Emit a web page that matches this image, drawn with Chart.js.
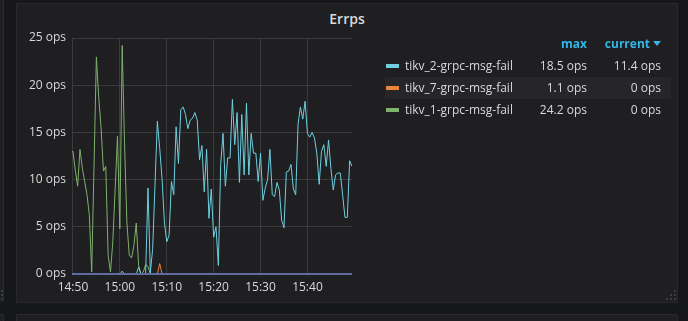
<!DOCTYPE html>
<html>
<head>
<meta charset="utf-8">
<script src="https://cdn.jsdelivr.net/npm/chart.js@4.4.1/dist/chart.umd.min.js"></script>
<style>
    html, body { margin: 0; padding: 0; }
    body {
        width: 688px;
        height: 321px;
        background: #161719;
        overflow: hidden;
        position: relative;
        font-family: 'Open Sans', sans-serif;
        color: #d8d9da;
    }
    .panel {
        position: absolute;
        box-sizing: border-box;
        background: #1f1e20;
        border: 1px solid #29292b;
    }
    .title {
        position: absolute;
        left: 16px;
        width: 662px;
        top: 9px;
        text-align: center;
        font-size: 14px;
        font-weight: 600;
        line-height: 20px;
    }
    canvas { position: absolute; left: 0; top: 0; }
    .legend { position: absolute; left: 385px; top: 33px; width: 286px; font-size: 12px; }
    .legend .row { position: relative; height: 22px; line-height: 22px; }
    .legend .row.alt { background: #262628; }
    .legend .head { color: #33b5e5; font-weight: 700; }
    .legend .swatch { position: absolute; left: 1px; top: 9px; width: 13px; height: 4px; }
    .legend .name { position: absolute; left: 20px; }
    .legend .max { position: absolute; right: 84px; }
    .legend .cur { position: absolute; right: 10px; }
    .caret {
        display: inline-block;
        width: 0; height: 0;
        margin-left: 3px;
        vertical-align: 2px;
        border-left: 4px solid transparent;
        border-right: 4px solid transparent;
        border-top: 5px solid #33b5e5;
    }
    .grip { position: absolute; width: 2px; height: 2px; background: #3c3c46; }
</style>
</head>
<body>
<div class="panel" style="left:-20px; top:-10px; width:24px; height:312px"></div>
<div class="panel" style="left:-20px; top:314px; width:24px; height:40px"></div>
<div class="panel" style="left:16px; top:314px; width:662px; height:40px"></div>
<div class="panel" style="left:16px; top:3px; width:662px; height:300px"></div>
<div class="title">Errps</div>
<canvas id="chart" width="688" height="321"></canvas>
<div class="legend" id="legend"></div>
<div id="grips"></div>
<script>
// minutes after 14:50, one sample every 30s
const startMinute = -0.5
const stepMinutes = 0.5
const xTickMinutes = [0, 10, 20, 30, 40, 50]
const yTicks = [0, 5, 10, 15, 20, 25]

const seriesNames = ['tikv_2-grpc-msg-fail', 'tikv_7-grpc-msg-fail', 'tikv_1-grpc-msg-fail']
const seriesColors = ['#6ed0e0', '#ef843c', '#7eb26d']

const tikv2 = [
    0, 0, 0, 0, 0, 0, 0, 0, 0, 0,
    0, 0, 0, 0, 0, 0, 0, 0, 0, 0,
    0, 0, 0.3, 0, 0, 0, 0, 0, 0, 0.7,
    0, 0, 0, 9.1, 0.1, 2.7, 9.5, 16.2, 13.3, 10.1,
    5.5, 3.4, 4.1, 9.8, 8.4, 15.6, 11.7, 17.4, 17.7, 16.9,
    15.4, 16.3, 16.5, 17.1, 16.3, 12.1, 13.6, 8.7, 13.2, 5.9,
    9.0, 3.9, 5.0, 0.9, 11.6, 14.9, 9.3, 12.3, 12.3, 18.5,
    13.7, 17.1, 9.7, 16.9, 10.5, 18.1, 10.5, 14.9, 12.8, 12.8,
    9.8, 12.8, 7.8, 9.1, 10.0, 13.2, 8.4, 8.2, 9.7, 8.9,
    5.7, 4.9, 10.8, 10.9, 11.6, 9.0, 8.4, 15.9, 17.7, 16.4,
    18.3, 14.9, 14.5, 15.0, 14.4, 12.8, 9.5, 13.0, 13.7, 11.4,
    14.2, 11.2, 8.9, 10.5, 10.7, 10.7, 8.4, 6.0, 6.0, 12.0,
    11.4
]

const tikv7 = [
    0, 0, 0, 0, 0, 0, 0, 0, 0, 0,
    0, 0, 0, 0, 0, 0, 0, 0, 0, 0,
    0, 0, 0, 0, 0, 0, 0, 0, 0, 0,
    0, 0, 0, 0, 0, 0, 0, 0, 1.1, 0,
    0, 0, 0, 0, 0, 0, 0, 0, 0, 0,
    0, 0, 0, 0, 0, 0, 0, 0, 0, 0,
    0, 0, 0, 0, 0, 0, 0, 0, 0, 0,
    0, 0, 0, 0, 0, 0, 0, 0, 0, 0,
    0, 0, 0, 0, 0, 0, 0, 0, 0, 0,
    0, 0, 0, 0, 0, 0, 0, 0, 0, 0,
    0, 0, 0, 0, 0, 0, 0, 0, 0, 0,
    0, 0, 0, 0, 0, 0, 0, 0, 0, 0,
    0
]

const tikv1 = [
    12.8, 13.0, 11.0, 9.3, 13.2, 11.2, 9.8, 8.4, 6.2, 0.2,
    11.5, 23.0, 18.7, 15.5, 10.9, 11.4, 2.0, 0.2, 3.4, 9.0,
    14.6, 4.8, 24.2, 13.9, 5.5, 2.0, 1.7, 3.0, 5.4, 0.9,
    0, 0.2, 1.0, 0.8, 0, 0, 0, 0, 0, 0,
    0, 0, 0, 0, 0, 0, 0, 0, 0, 0,
    0, 0, 0, 0, 0, 0, 0, 0, 0, 0,
    0, 0, 0, 0, 0, 0, 0, 0, 0, 0,
    0, 0, 0, 0, 0, 0, 0, 0, 0, 0,
    0, 0, 0, 0, 0, 0, 0, 0, 0, 0,
    0, 0, 0, 0, 0, 0, 0, 0, 0, 0,
    0, 0, 0, 0, 0, 0, 0, 0, 0, 0,
    0, 0, 0, 0, 0, 0, 0, 0, 0, 0,
    0
]

const seriesValues = [tikv2, tikv7, tikv1]

const textColor = '#d8d9da'
const gridColor = '#3a3a3c'

Chart.defaults.font.family = "'Open Sans', sans-serif"
Chart.defaults.font.size = 12

const minuteLabel = m => {
    const total = 14 * 60 + 50 + m
    return `${Math.floor(total / 60)}:${String(total % 60).padStart(2, '0')}`
}

// zero-valued series sit on the baseline and blend into one bluish line
const zeroLinePlugin = {
    id: 'zeroLine',
    afterDatasetsDraw(chart) {
        const { ctx, chartArea, scales } = chart
        const y = scales.y.getPixelForValue(0)
        ctx.save()
        ctx.strokeStyle = '#5f6b9e'
        ctx.lineWidth = 2
        ctx.beginPath()
        ctx.moveTo(chartArea.left, y)
        ctx.lineTo(chartArea.right, y)
        ctx.stroke()
        ctx.restore()
    }
}

const datasets = seriesNames.map((name, idx) => ({
    label: name,
    data: seriesValues[idx].map((v, i) => ({ x: startMinute + i * stepMinutes, y: v })),
    borderColor: seriesColors[idx],
    backgroundColor: seriesColors[idx],
    borderWidth: 1,
    pointRadius: 0,
    tension: 0,
    fill: false
}))

new Chart(document.getElementById('chart'), {
    type: 'line',
    data: { datasets },
    options: {
        responsive: false,
        animation: false,
        events: [],
        layout: { padding: { left: 16, right: 336, top: 38, bottom: 27 } },
        plugins: {
            legend: { display: false },
            tooltip: { enabled: false }
        },
        scales: {
            x: {
                type: 'linear',
                min: -0.2,
                max: 59.5,
                afterBuildTicks: scale => { scale.ticks = xTickMinutes.map(v => ({ value: v })) },
                afterFit: scale => { scale.height = 20 },
                ticks: {
                    color: textColor,
                    padding: 6,
                    maxRotation: 0,
                    autoSkip: false,
                    callback: v => minuteLabel(v)
                },
                grid: { color: gridColor, drawTicks: false },
                border: { display: false }
            },
            y: {
                min: 0,
                max: 25,
                afterBuildTicks: scale => { scale.ticks = yTicks.map(v => ({ value: v })) },
                afterFit: scale => { scale.width = 56 },
                ticks: {
                    color: textColor,
                    padding: 6,
                    callback: v => `${v} ops`
                },
                grid: { color: gridColor, drawTicks: false },
                border: { display: false }
            }
        }
    },
    plugins: [zeroLinePlugin]
})

// legend table with max / current columns
const legend = document.getElementById('legend')
let rows = `<div class="row head"><span class="max">max</span><span class="cur">current<span class="caret"></span></span></div>`
seriesNames.forEach((name, idx) => {
    const values = seriesValues[idx]
    const max = Math.max(...values)
    const cur = values[values.length - 1]
    rows += `<div class="row${idx === 1 ? ' alt' : ''}">
        <span class="swatch" style="background:${seriesColors[idx]}"></span>
        <span class="name">${name}</span>
        <span class="max">${max} ops</span>
        <span class="cur">${cur} ops</span>
    </div>`
})
legend.innerHTML = rows

// resize grips in the panel corners
const gripHtml = []
const addGrip = (right, bottom) => {
    for (let r = 0; r < 3; r++)
        for (let c = 0; c <= r; c++)
            gripHtml.push(`<div class="grip" style="left:${right - 2 - c * 4}px; top:${bottom - 11 + r * 4}px"></div>`)
}
addGrip(676, 301)
addGrip(3, 301)
document.getElementById('grips').innerHTML = gripHtml.join('')
</script>
</body>
</html>
